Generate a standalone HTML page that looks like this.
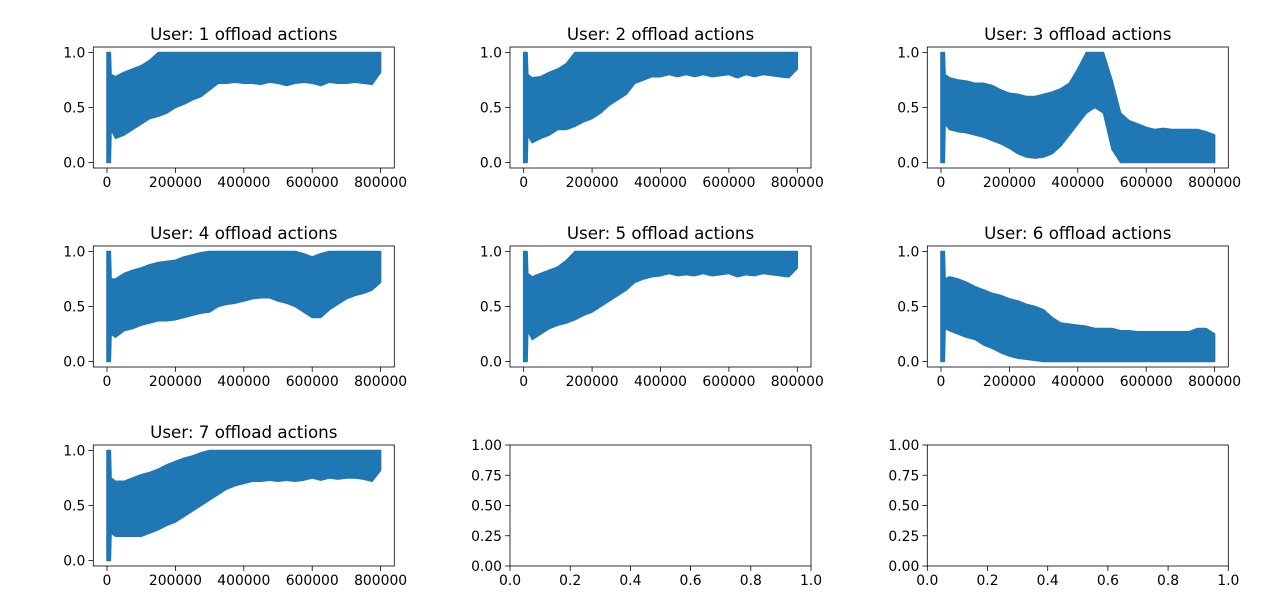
<!DOCTYPE html>
<html><head><meta charset="utf-8"><style>
html,body{margin:0;padding:0;background:#fff}
svg{display:block;font-family:"DejaVu Sans","Liberation Sans",sans-serif}
</style></head><body>
<svg id="fig" width="1280" height="615" viewBox="0 0 1280 615" xmlns="http://www.w3.org/2000/svg"></svg>
<script>
// Shared x sample grid (training step)
const xs = [0,10000,12000,25000,50000,75000,100000,125000,150000,175000,200000,225000,250000,275000,300000,325000,350000,375000,400000,425000,450000,475000,500000,525000,550000,575000,600000,625000,650000,675000,700000,725000,750000,775000,800000];
const xTicks = [0,200000,400000,600000,800000];
const yTicks = [0.0,0.5,1.0];
const emptyXTicks = [0.0,0.2,0.4,0.6,0.8,1.0];
const emptyYTicks = [0.00,0.25,0.50,0.75,1.00];
const userLabels = ["1","2","3","4","5","6","7"];
// upper / lower envelopes of each user's offload action series
const u1Upper = [1,1,0.8,0.78,0.82,0.85,0.88,0.93,1,1,1,1,1,1,1,1,1,1,1,1,1,1,1,1,1,1,1,1,1,1,1,1,1,1,1];
const u1Lower = [0,0,0.3,0.22,0.25,0.3,0.35,0.4,0.42,0.45,0.5,0.53,0.57,0.6,0.66,0.72,0.72,0.73,0.72,0.72,0.71,0.73,0.72,0.7,0.72,0.73,0.72,0.7,0.73,0.72,0.72,0.73,0.72,0.71,0.82];
const u2Upper = [1,1,0.8,0.77,0.78,0.82,0.85,0.9,1,1,1,1,1,1,1,1,1,1,1,1,1,1,1,1,1,1,1,1,1,1,1,1,1,1,1];
const u2Lower = [0,0,0.25,0.18,0.22,0.25,0.3,0.3,0.33,0.37,0.4,0.45,0.52,0.57,0.62,0.72,0.75,0.78,0.78,0.8,0.78,0.8,0.78,0.8,0.78,0.79,0.8,0.77,0.8,0.78,0.8,0.79,0.78,0.77,0.85];
const u3Upper = [1,1,0.8,0.77,0.75,0.74,0.72,0.72,0.7,0.66,0.63,0.62,0.6,0.6,0.62,0.64,0.67,0.72,0.85,1,1,1,0.75,0.45,0.38,0.35,0.32,0.3,0.31,0.3,0.3,0.3,0.3,0.28,0.25];
const u3Lower = [0,0,0.35,0.3,0.28,0.27,0.25,0.23,0.2,0.17,0.13,0.08,0.05,0.04,0.05,0.08,0.15,0.25,0.35,0.45,0.5,0.45,0.12,0,0,0,0,0,0,0,0,0,0,0,0];
const u4Upper = [1,1,0.75,0.75,0.8,0.83,0.85,0.88,0.9,0.91,0.92,0.95,0.97,0.99,1,1,1,1,1,1,1,1,1,1,1,0.98,0.95,0.98,1,1,1,1,1,1,1];
const u4Lower = [0,0,0.25,0.22,0.28,0.3,0.33,0.35,0.37,0.37,0.38,0.4,0.42,0.44,0.45,0.5,0.52,0.53,0.55,0.57,0.58,0.58,0.55,0.53,0.5,0.45,0.4,0.4,0.47,0.52,0.57,0.6,0.62,0.65,0.72];
const u5Upper = [1,1,0.8,0.77,0.8,0.83,0.86,0.92,1,1,1,1,1,1,1,1,1,1,1,1,1,1,1,1,1,1,1,1,1,1,1,1,1,1,1];
const u5Lower = [0,0,0.28,0.2,0.25,0.3,0.33,0.35,0.38,0.42,0.45,0.5,0.55,0.6,0.65,0.72,0.75,0.77,0.78,0.8,0.78,0.79,0.78,0.8,0.78,0.79,0.8,0.77,0.79,0.78,0.8,0.79,0.78,0.77,0.85];
const u6Upper = [1,1,0.75,0.77,0.75,0.72,0.68,0.65,0.62,0.6,0.57,0.55,0.52,0.5,0.47,0.4,0.35,0.34,0.33,0.32,0.3,0.3,0.3,0.28,0.28,0.27,0.27,0.27,0.27,0.27,0.27,0.27,0.3,0.3,0.25];
const u6Lower = [0,0,0.3,0.28,0.25,0.22,0.2,0.15,0.12,0.08,0.05,0.03,0.02,0.01,0,0,0,0,0,0,0,0,0,0,0,0,0,0,0,0,0,0,0,0,0];
const u7Upper = [1,1,0.75,0.72,0.72,0.75,0.78,0.8,0.83,0.87,0.9,0.93,0.95,0.98,1,1,1,1,1,1,1,1,1,1,1,1,1,1,1,1,1,1,1,1,1];
const u7Lower = [0,0,0.25,0.22,0.22,0.22,0.22,0.25,0.28,0.32,0.35,0.4,0.45,0.5,0.55,0.6,0.65,0.68,0.7,0.72,0.72,0.73,0.72,0.73,0.72,0.73,0.75,0.73,0.75,0.74,0.75,0.75,0.74,0.72,0.82];

const uppers = [u1Upper,u2Upper,u3Upper,u4Upper,u5Upper,u6Upper,u7Upper];
const lowers = [u1Lower,u2Lower,u3Lower,u4Lower,u5Lower,u6Lower,u7Lower];

const NS = "http://www.w3.org/2000/svg";
const svg = document.getElementById("fig");
const colL = [93.3, 510, 927.3], rowT = [47, 246, 445];
const W = 301, H = 121;
const BLUE = "#1f77b4";

function mk(tag, attrs, parent){
  const e = document.createElementNS(NS, tag);
  for (const k in attrs) e.setAttribute(k, attrs[k]);
  (parent||svg).appendChild(e);
  return e;
}
function txt(s, x, y, size, anchor, parent){
  const t = mk("text", {x:x, y:y, "font-size":size, "text-anchor":anchor, fill:"#000"}, parent);
  t.textContent = s;
  return t;
}

function drawAxes(i, empty){
  const L = colL[i%3], T = rowT[Math.floor(i/3)];
  const g = mk("g", {});
  
  
  let x0, x1, y0, y1;
  if (empty){ x0=0; x1=1; y0=0; y1=1; }
  else { x0=-40000; x1=840000; y0=-0.05; y1=1.05; }
  const sx = v => L + (v - x0)/(x1 - x0)*W;
  const sy = v => T + H - (v - y0)/(y1 - y0)*H;

  if (!empty){
    const up = uppers[i], lo = lowers[i];
    let pts = [];
    for (let k=0;k<xs.length;k++) pts.push(sx(xs[k]).toFixed(2)+","+sy(up[k]).toFixed(2));
    for (let k=xs.length-1;k>=0;k--) pts.push(sx(xs[k]).toFixed(2)+","+sy(lo[k]).toFixed(2));
    const p = mk("polygon", {points: pts.join(" "), fill: BLUE, stroke: BLUE, "stroke-width": 1.5, "stroke-linejoin":"round"}, g);
    
    
    const tt = txt("User: " + userLabels[i] + " offload actions", L + W/2, T - 7, 16.7, "middle", g);
    
    
  }
  const fr = mk("rect", {x:L, y:T, width:W, height:H, fill:"none", stroke:"#000", "stroke-width":0.8}, g);
  
  

  const xt = empty ? emptyXTicks : xTicks;
  const yt = empty ? emptyYTicks : yTicks;
  xt.forEach(v => {
    const x = sx(v);
    mk("line", {x1:x, x2:x, y1:T+H, y2:T+H+4.9, stroke:"#000", "stroke-width":0.8}, g);
    const t = txt(empty ? v.toFixed(1) : String(v), x, T+H+19, 13.9, "middle", g);
    
    
  });
  yt.forEach(v => {
    const y = sy(v);
    mk("line", {x1:L-4.9, x2:L, y1:y, y2:y, stroke:"#000", "stroke-width":0.8}, g);
    const t = txt(empty ? v.toFixed(2) : v.toFixed(1), L-8, y+5, 13.9, "end", g);
    
    
  });
}
for (let i=0;i<9;i++) drawAxes(i, i>=7);
</script>
</body></html>
